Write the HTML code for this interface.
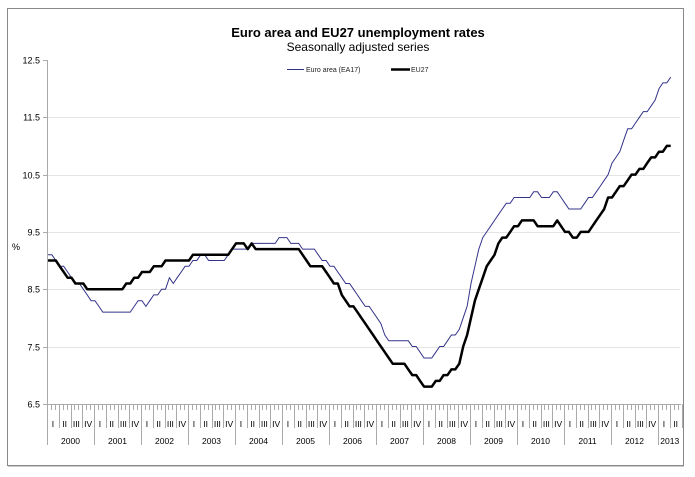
<!DOCTYPE html>
<html><head><meta charset="utf-8"><style>
html,body{margin:0;padding:0;background:#fff;}
svg{display:block;font-family:"Liberation Sans",Arial,sans-serif;}
</style></head><body>
<svg id="s" width="695" height="477" viewBox="0 0 695 477">
<rect x="7.5" y="8.5" width="676" height="457" fill="#fff" stroke="#888" stroke-width="1"/>
<line x1="8" y1="466.5" x2="684" y2="466.5" stroke="#ccc" stroke-width="1"/>
<text x="358" y="37" text-anchor="middle" font-size="13" font-weight="bold" fill="#000">Euro area and EU27 unemployment rates</text>
<text x="358" y="51" text-anchor="middle" font-size="12" fill="#000">Seasonally adjusted series</text>
<line x1="287" y1="69.5" x2="304" y2="69.5" stroke="#33338a" stroke-width="1"/>
<text x="306" y="72" font-size="7" fill="#222">Euro area (EA17)</text>
<line x1="391" y1="69.5" x2="410" y2="69.5" stroke="#000" stroke-width="2.5"/>
<text x="411" y="72" font-size="7" fill="#222">EU27</text>
<g id="grid" stroke="#e4e4e4" stroke-width="1"></g>
<g id="axis" stroke="#aaa" stroke-width="1"></g>
<g id="lab" font-size="9" fill="#000"></g>
<text x="12" y="250" font-size="9" fill="#000">%</text>
<polyline id="ea" fill="none" stroke="#33338a" stroke-width="1"/>
<polyline id="eu" fill="none" stroke="#000" stroke-width="2.5" stroke-linejoin="round"/>
</svg>
<script>
var NS="http://www.w3.org/2000/svg";
function el(p,t,a,txt){var e=document.createElementNS(NS,t);for(var k in a)e.setAttribute(k,a[k]);if(txt)e.textContent=txt;document.getElementById(p).appendChild(e);}
function Y(v){return 60+(12.5-v)*57.3;}
var labs=["12.5","11.5","10.5","9.5","8.5","7.5","6.5"];
for(var i=0;i<7;i++){var y=Math.round(Y(12.5-i))+0.5;
 if(i>0&&i<6)el("grid","line",{x1:47,y1:y,x2:680,y2:y});
 el("axis","line",{x1:43,y1:y,x2:47,y2:y});
 el("lab","text",{x:40,y:y+3,"text-anchor":"end"},labs[i]);}
el("axis","line",{x1:47.5,y1:60,x2:47.5,y2:404});
el("axis","line",{x1:47,y1:404.5,x2:681,y2:404.5});
var mw=47/12;
for(var m=0;m<=162;m++){var x=Math.round(47+m*mw)+0.5;var len=6;
 if(m%12==0)len=41;else if(m%3==0)len=24;
 el("axis","line",{x1:x,y1:404,x2:x,y2:404+len});}
var q=["I","II","III","IV"];
for(var yr=0;yr<14;yr++){
 var nq=yr==13?2:4;
 for(var k=0;k<nq;k++){var cx=47+(yr*12+k*3+1.5)*mw;el("lab","text",{x:cx,y:427,"text-anchor":"middle","font-size":"8.5"},q[k]);}
 var cy=47+(yr*12+(yr==13?3:6))*mw;el("lab","text",{x:cy,y:444,"text-anchor":"middle","font-size":"8.5"},String(2000+yr));}
var ea=[[48,9.1],[52,9.1],[103,8.1],[128,8.1],[135,8.2],[140,8.3],[145,8.2],[150,8.3],[165,8.5],[170,8.7],[175,8.6],[183,8.82],[193,9.0],[205,9.1],[210,9.0],[225,9.0],[232,9.2],[245,9.2],[258,9.3],[275,9.3],[280,9.4],[285,9.4],[290,9.3],[300,9.3],[305,9.2],[313,9.2],[317,9.1],[327,9.0],[353,8.5],[370,8.14],[390,7.61],[407,7.61],[415,7.5],[425,7.32],[433,7.32],[447,7.6],[457,7.72],[460,7.84],[468,8.3],[480,9.3],[492,9.59],[497,9.82],[508,10.0],[517,10.12],[530,10.12],[535,10.2],[540,10.12],[552,10.12],[555,10.2],[560,10.12],[570,9.9],[582,9.9],[603,10.4],[610,10.6],[622,10.96],[627,11.25],[637,11.4],[653,11.78],[663,12.1],[668,12.1],[672,12.19]];
var eu=[[48,9.0],[55,9.0],[62,8.8],[70,8.7],[80,8.6],[93,8.5],[120,8.5],[125,8.6],[137,8.7],[147,8.8],[157,8.9],[168,9.0],[187,9.0],[192,9.1],[230,9.1],[237,9.3],[245,9.3],[249,9.2],[253,9.3],[258,9.2],[297,9.2],[302,9.1],[313,8.9],[323,8.9],[340,8.5],[345,8.3],[353,8.2],[360,8.0],[378,7.61],[393,7.2],[405,7.2],[418,6.91],[425,6.8],[433,6.8],[438,6.9],[445,7.0],[453,7.1],[457,7.1],[467,7.7],[477,8.4],[485,8.8],[493,9.1],[503,9.4],[510,9.5],[523,9.7],[535,9.7],[540,9.6],[552,9.6],[555,9.7],[560,9.6],[570,9.5],[575,9.4],[578,9.4],[583,9.5],[587,9.5],[610,10.1],[623,10.3],[633,10.5],[648,10.7],[660,10.9],[670,11.0],[673,11.0]];
function interp(a,x){if(x<=a[0][0])return a[0][1];for(var i=1;i<a.length;i++){if(x<=a[i][0]){var t=(x-a[i-1][0])/(a[i][0]-a[i-1][0]);return a[i-1][1]+t*(a[i][1]-a[i-1][1]);}}return a[a.length-1][1];}
function pts(a){var out=[];var end=a[a.length-1][0];for(var x=a[0][0];x<=end+0.01;x+=mw){var v=Math.round(interp(a,x)*10)/10;out.push(x.toFixed(1)+","+Y(v).toFixed(1));}return out.join(" ");}
document.getElementById("ea").setAttribute("points",pts(ea));
document.getElementById("eu").setAttribute("points",pts(eu));
</script>
</body></html>
